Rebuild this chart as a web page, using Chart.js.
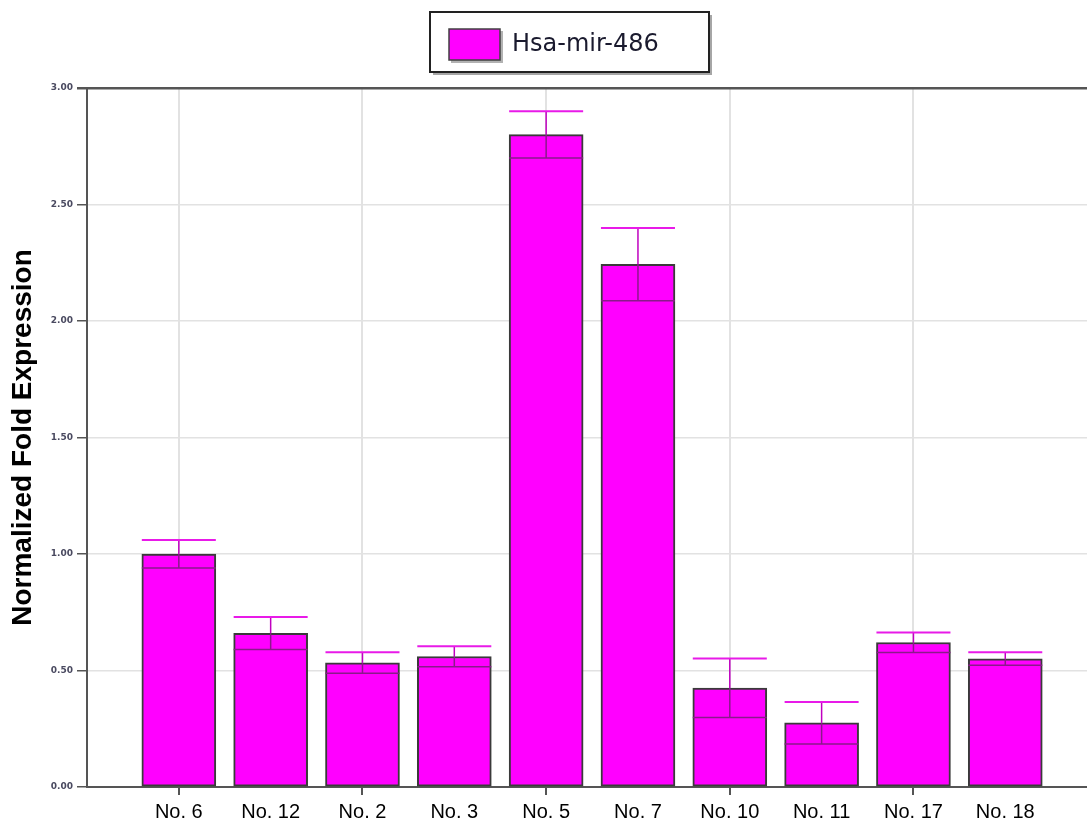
<!DOCTYPE html>
<html>
<head>
<meta charset="utf-8">
<script src="https://cdn.jsdelivr.net/npm/chart.js@4/dist/chart.umd.min.js"></script>
<style>
  html, body { margin: 0; padding: 0; background: #ffffff; }
  #wrap { width: 1087px; height: 822px; position: relative; }
</style>
</head>
<body>
<div id="wrap"><canvas id="chart" width="1087" height="822"></canvas></div>
<script>
// Samples in plotting order
const samples = ['No. 6', 'No. 12', 'No. 2', 'No. 3', 'No. 5', 'No. 7', 'No. 10', 'No. 11', 'No. 17', 'No. 18'];
// Normalized fold expression of Hsa-mir-486 per sample
const foldExpression = [1.00, 0.66, 0.533, 0.56, 2.80, 2.243, 0.425, 0.275, 0.62, 0.55];
// Symmetric error (+/-) for each sample
const foldError = [0.06, 0.07, 0.045, 0.044, 0.10, 0.156, 0.127, 0.09, 0.043, 0.028];
// Y axis tick values
const yTicks = [0, 0.5, 1.0, 1.5, 2.0, 2.5, 3.0];

const seriesName = 'Hsa-mir-486';
const barFill = '#ff00ff';
const barEdge = '#3a3a3a';

// Error bars: the part above the bar in magenta, the part inside the bar in dark purple
const errorBars = {
  id: 'errorBars',
  afterDatasetsDraw(chart) {
    const meta = chart.getDatasetMeta(0);
    const y = chart.scales.y;
    const ctx = chart.ctx;
    ctx.save();
    meta.data.forEach((bar, i) => {
      const half = bar.width / 2;
      const yHi = y.getPixelForValue(foldExpression[i] + foldError[i]);
      const yLo = y.getPixelForValue(foldExpression[i] - foldError[i]);
      const yMid = bar.y;
      // upper whisker
      ctx.strokeStyle = '#c000c0';
      ctx.lineWidth = 1.5;
      ctx.beginPath();
      ctx.moveTo(bar.x, yMid);
      ctx.lineTo(bar.x, yHi);
      ctx.stroke();
      ctx.strokeStyle = '#e81ae8';
      ctx.lineWidth = 2;
      ctx.beginPath();
      ctx.moveTo(bar.x - half, yHi);
      ctx.lineTo(bar.x + half, yHi);
      ctx.stroke();
      // lower whisker
      ctx.strokeStyle = '#8a1a8a';
      ctx.lineWidth = 1.5;
      ctx.beginPath();
      ctx.moveTo(bar.x, yMid);
      ctx.lineTo(bar.x, yLo);
      ctx.moveTo(bar.x - half, yLo);
      ctx.lineTo(bar.x + half, yLo);
      ctx.stroke();
    });
    ctx.restore();
  }
};

// Framed legend with a drop shadow above the plot
const boxedLegend = {
  id: 'boxedLegend',
  afterDraw(chart) {
    const ctx = chart.ctx;
    const ds = chart.data.datasets[0];
    const bx = 430, by = 12, bw = 279, bh = 60;
    ctx.save();
    // shadow
    ctx.fillStyle = 'rgba(0,0,0,0.35)';
    ctx.fillRect(bx + 3, by + 3, bw, bh);
    ctx.fillStyle = '#ffffff';
    ctx.fillRect(bx, by, bw, bh);
    ctx.strokeStyle = '#222222';
    ctx.lineWidth = 2;
    ctx.strokeRect(bx, by, bw, bh);
    // swatch
    ctx.fillStyle = 'rgba(0,0,0,0.3)';
    ctx.fillRect(451, 31, 52, 32);
    ctx.fillStyle = ds.backgroundColor;
    ctx.fillRect(449, 29, 51, 31);
    ctx.strokeStyle = '#404040';
    ctx.lineWidth = 1.5;
    ctx.strokeRect(449, 29, 51, 31);
    // label
    ctx.fillStyle = '#1a1a2e';
    ctx.font = '24px "DejaVu Sans"';
    ctx.textBaseline = 'middle';
    ctx.textAlign = 'left';
    ctx.fillText(ds.label, 512, 45);
    ctx.restore();
  }
};

const ctx = document.getElementById('chart').getContext('2d');
new Chart(ctx, {
  type: 'bar',
  data: {
    datasets: [{
      label: seriesName,
      data: samples.map((s, i) => ({ x: i + 1, y: foldExpression[i] })),
      backgroundColor: barFill,
      borderColor: barEdge,
      borderWidth: 2,
      borderSkipped: false,
      barThickness: 74
    }]
  },
  options: {
    responsive: false,
    animation: false,
    layout: { padding: { top: 88, right: 0, left: 0, bottom: 0 } },
    plugins: {
      legend: { display: false },
      tooltip: { enabled: false }
    },
    scales: {
      x: {
        type: 'linear',
        offset: false,
        min: 0,
        max: 10.89,
        afterBuildTicks(scale) {
          scale.ticks = samples.map((s, i) => ({ value: i + 1 }));
        },
        afterFit(scale) { scale.height = 35; },
        ticks: {
          autoSkip: false,
          maxRotation: 0,
          padding: 5,
          color: '#000000',
          font: { family: '"Liberation Sans", Arial', size: 20 },
          callback: (v) => samples[v - 1] || ''
        },
        grid: {
          offset: false,
          color: (c) => (c.tick && c.tick.value % 2 === 1) ? '#e2e2e2' : 'rgba(0,0,0,0)',
          tickColor: (c) => (c.tick && c.tick.value % 2 === 1) ? '#555555' : 'rgba(0,0,0,0)',
          lineWidth: 2,
          tickLength: 8,
          drawOnChartArea: true
        },
        border: { color: '#555555', width: 2 }
      },
      y: {
        min: 0,
        max: 3,
        afterBuildTicks(scale) {
          scale.ticks = yTicks.map(v => ({ value: v }));
        },
        afterFit(scale) { scale.width = 87; },
        ticks: {
          padding: 4,
          color: '#4a4a60',
          font: { family: '"DejaVu Sans"', size: 9, weight: 'bold' },
          callback: (v) => Number(v).toFixed(2)
        },
        grid: {
          color: (c) => (c.tick && c.tick.value === 3) ? '#555555' : '#e2e2e2',
          lineWidth: (c) => (c.tick && c.tick.value === 3) ? 2.5 : 1.5,
          tickColor: '#555555',
          tickLength: 10
        },
        border: { color: '#555555', width: 2 },
        title: {
          display: true,
          text: 'Normalized Fold Expression',
          color: '#000000',
          font: { family: '"Liberation Sans", Arial', size: 28, weight: 'bold' },
          padding: { top: 6, bottom: 0 }
        }
      }
    }
  },
  plugins: [errorBars, boxedLegend]
});
</script>
</body>
</html>
